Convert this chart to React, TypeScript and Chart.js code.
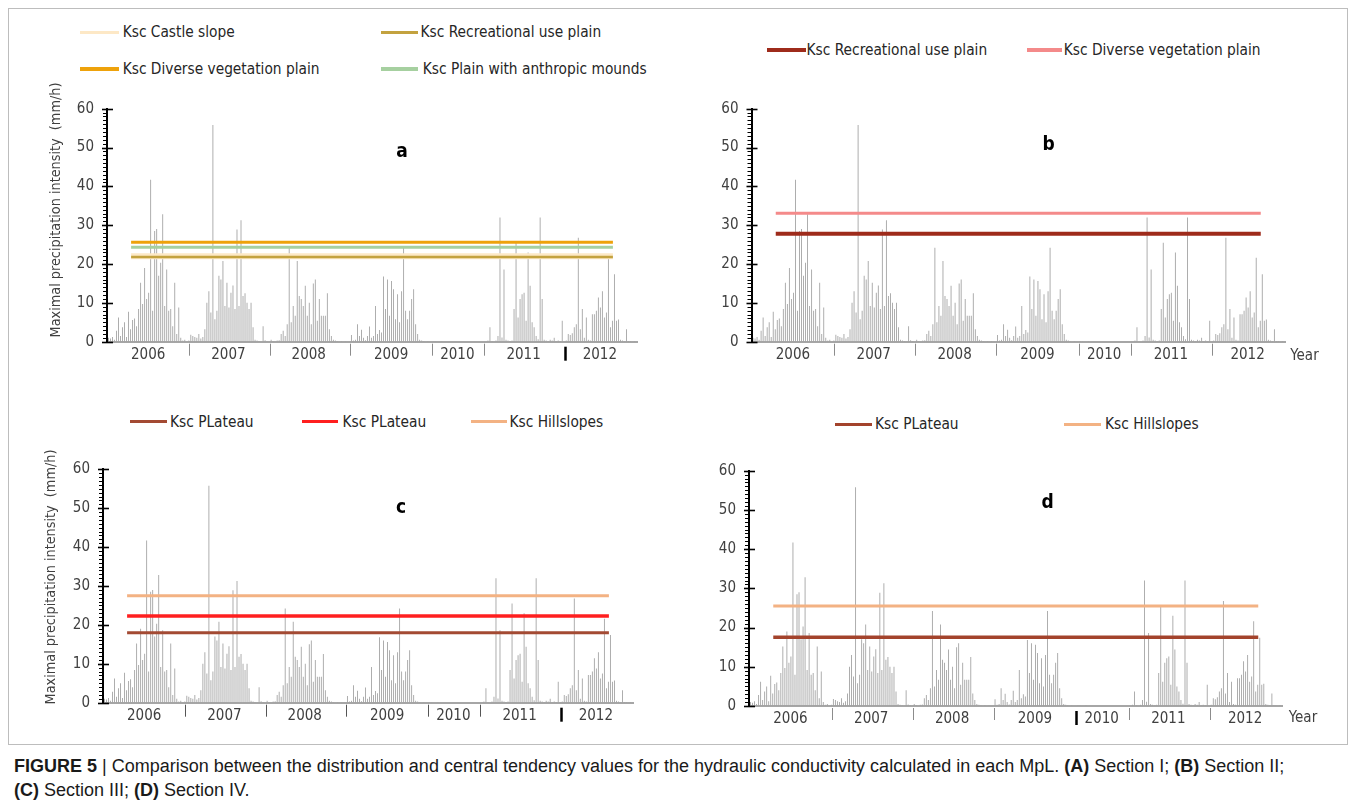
import React, { useEffect, useRef } from 'react';
import { Chart, registerables } from 'chart.js';

Chart.register(...registerables);

const FONT = '"Liberation Sans Narrow", "Arial Narrow", "DejaVu Sans Condensed", Lato, sans-serif';
const CAPTION_FONT = '"Liberation Sans", Arial, Helvetica, sans-serif';

// ---------------- data ----------------
const YEARS = ['2006', '2007', '2008', '2009', '2010', '2011', '2012'];

const P2006 = [1.0, 0.8, 1.2, 0.5, 2.8, 6.2, 1.5, 3.7, 5.0, 1.2, 7.7, 3.2, 5.6, 6.0, 4.0, 8.4, 15.2, 9.7, 19.0, 11.0, 12.6, 41.7, 8.0, 28.5, 29.0, 17.0, 20.3, 32.8, 9.2, 18.6, 8.0, 8.4, 4.0, 15.2, 2.0, 8.8, 1.0, 0.3, 0.5, 0.0, 0.3];
const P2007 = [1.8, 1.5, 1.2, 1.0, 2.0, 0.8, 1.2, 3.2, 10.0, 13.0, 7.5, 55.8, 5.8, 8.0, 17.0, 16.0, 20.8, 9.2, 15.2, 8.8, 12.6, 14.5, 8.4, 28.9, 9.2, 31.3, 11.8, 12.5, 10.0, 8.4, 10.0, 3.7, 0.5, 0.3, 0.2, 0.0, 4.0, 0.4, 0.2, 0.0];
const P2008 = [0.5, 0.2, 0.0, 0.3, 0.4, 2.0, 2.8, 1.5, 4.5, 24.2, 5.0, 9.2, 6.7, 20.8, 11.8, 11.0, 9.2, 14.4, 6.7, 10.0, 4.5, 15.0, 16.0, 5.4, 11.0, 6.7, 6.7, 6.7, 12.5, 3.2, 1.5, 0.5, 0.3, 0.2, 0.0, 0.2, 0.0, 0.1, 0.0, 0.0];
const P2009 = [1.7, 0.3, 0.5, 4.5, 1.5, 3.1, 1.0, 0.4, 1.5, 3.9, 1.0, 1.5, 9.2, 2.0, 3.0, 2.4, 16.8, 8.4, 16.0, 6.7, 15.6, 13.5, 5.8, 12.2, 5.0, 13.0, 24.2, 8.0, 5.8, 8.0, 11.0, 13.5, 4.5, 2.0, 0.5, 0.3, 0.2, 0.0, 0.2, 0.0, 0.0];
const P2010 = [0.2, 0.1, 0.0, 0.0, 0.2, 0.0, 0.0, 0.0, 0.0, 0.0, 0.0, 0.0, 0.0, 0.0, 0.0, 0.0, 0.0, 0.0, 0.0, 0.0, 0.0, 0.0, 0.0, 0.0, 0.0, 0.0];
const P2011 = [0.0, 0.3, 3.7, 0.2, 0.0, 0.3, 1.5, 32.0, 1.1, 18.6, 0.5, 0.3, 0.2, 0.3, 8.4, 25.5, 6.2, 11.0, 12.2, 12.6, 5.4, 23.0, 14.4, 5.0, 3.7, 1.5, 0.6, 32.0, 11.0, 0.5, 0.3, 0.2, 0.5, 0.3, 1.0, 0.2, 0.3, 0.2, 5.4, 0.0];
const P2012 = [0.3, 2.0, 1.7, 2.2, 3.7, 4.5, 26.8, 3.2, 8.4, 1.0, 6.2, 0.5, 0.3, 7.1, 7.1, 8.0, 11.4, 8.8, 13.0, 6.2, 7.5, 21.6, 3.7, 5.4, 17.4, 5.4, 5.7, 0.5, 0.3, 0.2, 3.2, 0.2, 0.1, 0.0, 0.1, 0.0];
const YEAR_VALUES = [P2006, P2007, P2008, P2009, P2010, P2011, P2012];

const Y_TICKS = [0, 10, 20, 30, 40, 50, 60];
const Y_AXIS_TITLE = 'Maximal precipitation intensity  (mm/h)';
const X_AXIS_NAME = 'Year';

const KSC_A_NAMES = ['Ksc Castle slope', 'Ksc Recreational use plain', 'Ksc Diverse vegetation plain', 'Ksc Plain with anthropic mounds'];
const KSC_A_VALUES = [22.0, 21.8, 25.6, 24.3];
const KSC_B_NAMES = ['Ksc Recreational use plain', 'Ksc Diverse vegetation plain'];
const KSC_B_VALUES = [27.8, 33.1];
const KSC_C_NAMES = ['Ksc PLateau', 'Ksc PLateau', 'Ksc Hillslopes'];
const KSC_C_VALUES = [18.0, 22.3, 27.5];
const KSC_D_NAMES = ['Ksc PLateau', 'Ksc Hillslopes'];
const KSC_D_VALUES = [17.5, 25.5];

// ------------- derived category table -------------
const SLOT_LABELS: string[] = [];
const SLOT_VALUES: number[] = [];
const TICK_TEXT: string[] = [];
const GROUP_ENDS: number[] = [];
YEARS.forEach((yr, gi) => {
  const vals = YEAR_VALUES[gi];
  const mid = Math.floor((vals.length - 1) / 2);
  vals.forEach((v, k) => {
    SLOT_LABELS.push(yr + '-' + (k + 1));
    SLOT_VALUES.push(v);
    TICK_TEXT.push(k === mid ? yr : '');
  });
  GROUP_ENDS.push(SLOT_VALUES.length);
});

const Y_MIN = Y_TICKS[0];
const Y_MAX = Y_TICKS[Y_TICKS.length - 1];
const Y_STEP = Y_TICKS[1] - Y_TICKS[0];

// ------------- panel layout / style -------------
type Box = { x: number; y: number; w: number; h: number };
type Area = { l: number; t: number; r: number; b: number };
type LegendPos = { x1: number; x2: number; y: number; tx: number };
type PanelCfg = {
  letter: string;
  names: string[];
  values: number[];
  colors: string[];
  widths: number[];
  orders: number[];
  canvas: Box;
  area: Area;
  letterPos: [number, number];
  yTitle: [number, number] | null;
  yearPos: [number, number] | null;
  boldSep: number;
  sepColor: string;
  legend: LegendPos[];
};

const PANELS: PanelCfg[] = [
  {
    letter: 'a', names: KSC_A_NAMES, values: KSC_A_VALUES,
    colors: ['#fde8c6', '#c3a23f', '#eea20b', '#a6d0a0'],
    widths: [6, 2.5, 3, 3], orders: [4, 3, 1, 2],
    canvas: { x: 20, y: 60, w: 650, h: 315 },
    area: { l: 107, t: 108.7, r: 637, b: 341.7 },
    letterPos: [402, 152], yTitle: [56, 210], yearPos: null, boldSep: 5, sepColor: '#8c8c8c',
    legend: [
      { x1: 80, x2: 119, y: 32.3, tx: 122.7 },
      { x1: 381, x2: 418, y: 32.3, tx: 420.6 },
      { x1: 80, x2: 119, y: 69, tx: 122.7 },
      { x1: 381, x2: 418, y: 69, tx: 422.8 },
    ],
  },
  {
    letter: 'b', names: KSC_B_NAMES, values: KSC_B_VALUES,
    colors: ['#9e2b1b', '#f48a8a'],
    widths: [4, 3], orders: [1, 2],
    canvas: { x: 690, y: 60, w: 650, h: 315 },
    area: { l: 751.5, t: 108.7, r: 1285, b: 341.7 },
    letterPos: [1048.6, 145], yTitle: null, yearPos: [1304.5, 356], boldSep: -1, sepColor: '#8c8c8c',
    legend: [
      { x1: 766.7, x2: 805.8, y: 50, tx: 806.6 },
      { x1: 1027, x2: 1061.6, y: 50, tx: 1063.8 },
    ],
  },
  {
    letter: 'c', names: KSC_C_NAMES, values: KSC_C_VALUES,
    colors: ['#a34a33', '#ff1f1f', '#f3b283'],
    widths: [3, 3.5, 3], orders: [1, 2, 3],
    canvas: { x: 20, y: 425, w: 650, h: 315 },
    area: { l: 103, t: 469.3, r: 633, b: 702.7 },
    letterPos: [401, 507.7], yTitle: [51, 577], yearPos: null, boldSep: 5, sepColor: '#555555',
    legend: [
      { x1: 130, x2: 167, y: 421.7, tx: 170 },
      { x1: 302, x2: 338, y: 421.7, tx: 342.6 },
      { x1: 470.5, x2: 507, y: 421.7, tx: 509.5 },
    ],
  },
  {
    letter: 'd', names: KSC_D_NAMES, values: KSC_D_VALUES,
    colors: ['#a3432c', '#f3b283'],
    widths: [3.5, 3], orders: [1, 2],
    canvas: { x: 690, y: 425, w: 650, h: 315 },
    area: { l: 749, t: 470.7, r: 1282.5, b: 706 },
    letterPos: [1047.7, 502.7], yTitle: null, yearPos: [1303, 718], boldSep: 3, sepColor: '#8c8c8c',
    legend: [
      { x1: 835, x2: 871.7, y: 424.3, tx: 875 },
      { x1: 1063.8, x2: 1100.6, y: 424.3, tx: 1105 },
    ],
  },
];

function Panel({ cfg }: { cfg: PanelCfg }) {
  const ref = useRef<HTMLCanvasElement>(null);
  const cb = cfg.canvas;
  useEffect(() => {
    const canvas = ref.current;
    if (!canvas) return;
    const area = cfg.area;
    const ox = cb.x;
    const oy = cb.y;

    const decor = {
      id: 'decor_' + cfg.letter,
      afterDraw(chart: any) {
        const { ctx, chartArea } = chart;
        const ys = chart.scales.y;
        const xs = chart.scales.x;
        ctx.save();
        // y-axis major / minor tick marks
        ctx.strokeStyle = '#000';
        for (let v = Y_MIN; v <= Y_MAX; v += 1) {
          const py = Math.round(ys.getPixelForValue(v)) + 0.5;
          const major = v % Y_STEP === 0;
          ctx.lineWidth = major ? 1.6 : 1;
          ctx.beginPath();
          ctx.moveTo(chartArea.left - (major ? 5 : 4), py);
          ctx.lineTo(chartArea.left + (major ? 6 : 0), py);
          ctx.stroke();
        }
        // year group separators
        GROUP_ENDS.slice(0, -1).forEach((end, gi) => {
          const px = Math.round(xs.getPixelForValue(end - 0.5)) + 0.5;
          const bold = gi === cfg.boldSep;
          ctx.strokeStyle = bold ? '#000' : cfg.sepColor;
          ctx.lineWidth = bold ? 2.5 : 1;
          ctx.beginPath();
          ctx.moveTo(px, chartArea.bottom + (bold ? 5 : 2));
          ctx.lineTo(px, chartArea.bottom + (bold ? 19 : 14));
          ctx.stroke();
        });
        // panel letter
        ctx.fillStyle = '#000';
        ctx.textAlign = 'center';
        ctx.textBaseline = 'middle';
        ctx.font = 'bold 19px ' + FONT;
        ctx.fillText(cfg.letter, cfg.letterPos[0] - ox, cfg.letterPos[1] - oy);
        // axis titles
        ctx.fillStyle = '#404040';
        ctx.font = '15px ' + FONT;
        if (cfg.yearPos) {
          ctx.fillText(X_AXIS_NAME, cfg.yearPos[0] - ox, cfg.yearPos[1] - oy);
        }
        if (cfg.yTitle) {
          ctx.font = '14.3px ' + FONT;
          ctx.translate(cfg.yTitle[0] - ox, cfg.yTitle[1] - oy);
          ctx.rotate(-Math.PI / 2);
          ctx.fillText(Y_AXIS_TITLE, 0, 0);
        }
        ctx.restore();
      },
    };

    const lineSets = cfg.values.map((v, i) => ({
      type: 'line' as const,
      label: cfg.names[i],
      data: [{ x: 0, y: v }, { x: 1, y: v }],
      xAxisID: 'xl',
      yAxisID: 'y',
      borderColor: cfg.colors[i],
      backgroundColor: cfg.colors[i],
      borderWidth: cfg.widths[i],
      pointRadius: 0,
      order: cfg.orders[i],
    }));

    const chart = new Chart(canvas, {
      type: 'bar',
      data: {
        labels: SLOT_LABELS,
        datasets: [
          ...lineSets,
          {
            type: 'bar' as const,
            label: 'Maximal precipitation intensity',
            data: SLOT_VALUES,
            backgroundColor: '#a0a0a0',
            barPercentage: 0.85,
            categoryPercentage: 1,
            xAxisID: 'x',
            yAxisID: 'y',
            order: 100,
          },
        ] as any,
      },
      options: {
        animation: false,
        responsive: false,
        maintainAspectRatio: false,
        devicePixelRatio: 1,
        events: [],
        layout: {
          padding: {
            left: 0,
            top: area.t - oy,
            right: ox + cb.w - area.r,
            bottom: 0,
          },
        },
        plugins: {
          legend: { display: false },
          tooltip: { enabled: false },
          title: { display: false },
        },
        scales: {
          x: {
            type: 'category',
            position: 'bottom',
            offset: true,
            grid: { display: false, drawTicks: false },
            border: { display: true, color: '#a6a6a6', width: 2 },
            ticks: {
              autoSkip: false,
              maxRotation: 0,
              minRotation: 0,
              padding: 4,
              color: '#404040',
              font: { family: FONT, size: 15 },
              callback: (_v: any, i: number) => TICK_TEXT[i],
            },
            afterFit: (s: any) => { s.height = oy + cb.h - area.b; },
          },
          xl: { type: 'linear', display: false, min: 0, max: 1 },
          y: {
            position: 'left',
            min: Y_MIN,
            max: Y_MAX,
            grid: { display: false, drawTicks: false },
            border: { display: true, color: '#000', width: 2, z: 1 },
            ticks: {
              stepSize: Y_STEP,
              padding: 13,
              color: '#404040',
              font: { family: FONT, size: 15 },
            },
            afterFit: (s: any) => { s.width = area.l - ox; },
          },
        } as any,
      },
      plugins: [decor],
    });
    return () => chart.destroy();
  }, [cfg]);

  return (
    <canvas
      ref={ref}
      width={cb.w}
      height={cb.h}
      style={{ position: 'absolute', left: cb.x, top: cb.y, width: cb.w, height: cb.h }}
    />
  );
}

function Legend({ cfg }: { cfg: PanelCfg }) {
  return (
    <>
      {cfg.legend.map((it, i) => (
        <React.Fragment key={i}>
          <div
            style={{
              position: 'absolute', left: it.x1, top: it.y - 1.75,
              width: it.x2 - it.x1, height: 3.5, background: cfg.colors[i],
            }}
          />
          <div
            style={{
              position: 'absolute', left: it.tx, top: it.y - 11, height: 22, lineHeight: '22px',
              fontFamily: FONT, fontSize: 15.3, color: '#262626', whiteSpace: 'nowrap',
            }}
          >
            {cfg.names[i]}
          </div>
        </React.Fragment>
      ))}
    </>
  );
}

export default function App() {
  return (
    <div style={{ position: 'absolute', left: 0, top: 0, width: 1356, height: 808, background: '#fff', overflow: 'hidden' }}>
      <div
        style={{
          position: 'absolute', left: 8, top: 8, width: 1340, height: 737,
          border: '1px solid #bdbdbd', boxSizing: 'border-box',
        }}
      />
      {PANELS.map((p) => (
        <React.Fragment key={p.letter}>
          <Legend cfg={p} />
          <Panel cfg={p} />
        </React.Fragment>
      ))}
      <div
        style={{
          position: 'absolute', left: 14, top: 754, width: 1336,
          fontFamily: CAPTION_FONT, fontSize: 18, lineHeight: '24px', color: '#1a1a1a', whiteSpace: 'nowrap',
        }}
      >
        <div><b>FIGURE 5</b> | Comparison between the distribution and central tendency values for the hydraulic conductivity calculated in each MpL. <b>(A)</b> Section I; <b>(B)</b> Section II;</div>
        <div><b>(C)</b> Section III; <b>(D)</b> Section IV.</div>
      </div>
    </div>
  );
}
